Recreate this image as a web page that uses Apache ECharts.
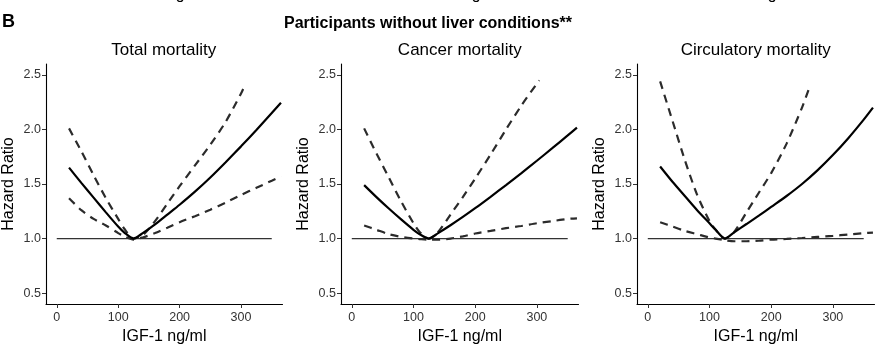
<!DOCTYPE html>
<html>
<head>
<meta charset="utf-8">
<script src="https://cdn.jsdelivr.net/npm/echarts@6/dist/echarts.min.js"></script>
<style>
body { margin: 0; background: #fff; }
#chart { width: 875px; height: 351px; }
</style>
</head>
<body>
<div id="chart"></div>
<script type="text/javascript">
	// IGF-1 grid (ng/ml) shared by the fitted curves and lower bounds
	var xGrid = [20, 40, 60, 80, 100, 110, 125, 140, 160, 180, 200, 225, 250, 275, 300, 325, 350, 365];

	// Total mortality
	var totalFit = [1.65, 1.51, 1.375, 1.24, 1.11, 1.055, 1.0, 1.05, 1.13, 1.22, 1.31, 1.43, 1.56, 1.70, 1.845, 1.995, 2.15, 2.245];
	var totalLower = [1.37, 1.26, 1.18, 1.12, 1.05, 1.02, 0.99, 1.01, 1.05, 1.10, 1.15, 1.205, 1.265, 1.33, 1.40, 1.465, 1.53, 1.57];
	var totalUpperX = [20, 40, 60, 80, 100, 110, 125, 140, 160, 180, 200, 225, 250, 275, 300, 305];
	var totalUpper = [2.01, 1.80, 1.58, 1.37, 1.18, 1.09, 1.0, 1.03, 1.16, 1.32, 1.48, 1.67, 1.86, 2.07, 2.33, 2.39];

	// Cancer mortality
	var cancerFit = [1.49, 1.38, 1.275, 1.175, 1.08, 1.04, 1.0, 1.05, 1.122, 1.198, 1.278, 1.383, 1.49, 1.60, 1.713, 1.828, 1.945, 2.017];
	var cancerLower = [1.12, 1.08, 1.04, 1.015, 1.0, 0.995, 0.99, 0.99, 1.0, 1.02, 1.046, 1.07, 1.095, 1.115, 1.14, 1.16, 1.18, 1.185];
	var cancerUpperX = [20, 40, 60, 80, 100, 110, 125, 140, 160, 180, 200, 225, 250, 275, 300, 304];
	var cancerUpper = [2.01, 1.78, 1.56, 1.34, 1.14, 1.06, 1.0, 1.06, 1.22, 1.38, 1.55, 1.77, 2.0, 2.22, 2.42, 2.45];

	// Circulatory mortality
	var circFit = [1.66, 1.52, 1.39, 1.26, 1.14, 1.08, 1.0, 1.057, 1.133, 1.21, 1.29, 1.39, 1.50, 1.625, 1.765, 1.92, 2.09, 2.2];
	var circLower = [1.15, 1.11, 1.07, 1.04, 1.01, 1.0, 0.985, 0.975, 0.975, 0.98, 0.99, 0.997, 1.005, 1.015, 1.025, 1.037, 1.05, 1.055];
	var circUpperX = [20, 40, 60, 80, 100, 110, 125, 140, 160, 180, 200, 225, 250, 261];
	var circUpper = [2.44, 2.08, 1.72, 1.40, 1.16, 1.08, 1.0, 1.06, 1.24, 1.42, 1.60, 1.87, 2.2, 2.37];

	// reference line HR = 1
	var refX = [0, 350];
	var refY = [1, 1];

	var xTicks = [0, 100, 200, 300];
	var yTicks = [0.5, 1.0, 1.5, 2.0, 2.5];

	var panelTitles = ['Total mortality', 'Cancer mortality', 'Circulatory mortality'];
	var mainTitle = 'Participants without liver conditions**';
	var xName = 'IGF-1 ng/ml';
	var yName = 'Hazard Ratio';

	function zip(xs, ys) {
		var arr = [];
		for (var i = 0; i < xs.length; i++) {
			arr.push([xs[i], ys[i]]);
		}
		return arr;
	}

	var FONT = 'Liberation Sans, Arial, sans-serif';
	var lefts = [45, 341, 637];
	var panels = [
		{ fit: totalFit, lower: totalLower, upX: totalUpperX, up: totalUpper },
		{ fit: cancerFit, lower: cancerLower, upX: cancerUpperX, up: cancerUpper },
		{ fit: circFit, lower: circLower, upX: circUpperX, up: circUpper }
	];

	var grids = [], xAxes = [], yAxes = [], series = [], titles = [];
	var graphics = [];

	for (var i = 0; i < 3; i++) {
		grids.push({ left: lefts[i], top: 64, width: 237.5, height: 240 });
		xAxes.push({
			type : 'value',
			gridIndex : i,
			min : -17.5,
			max : 367.5,
			name : xName,
			nameLocation : 'middle',
			nameGap : 25,
			nameTextStyle : { fontFamily: FONT, fontSize: 16, color: '#000' },
			axisLine : { onZero: false, lineStyle: { color: '#000', width: 1.1 } },
			axisTick : { show: true, length: 4, customValues: xTicks, lineStyle: { color: '#333' } },
			axisLabel : { customValues: xTicks, fontFamily: FONT, fontSize: 12.5, color: '#333', margin: 7 },
			splitLine : { show: false }
		});
		yAxes.push({
			type : 'value',
			gridIndex : i,
			min : 0.4,
			max : 2.6,
			name : yName,
			nameLocation : 'middle',
			nameGap : 29,
			nameRotate : 90,
			nameTextStyle : { fontFamily: FONT, fontSize: 16, color: '#000' },
			axisLine : { show: true, onZero: false, lineStyle: { color: '#000', width: 1.1 } },
			axisTick : { show: true, length: 4, customValues: yTicks, lineStyle: { color: '#333' } },
			axisLabel : {
				customValues: yTicks, fontFamily: FONT, fontSize: 12.5, color: '#333', margin: 5,
				formatter: function (v) { return v.toFixed(1); }
			},
			splitLine : { show: false }
		});
		// title padding is 5px, so shift left by it
		titles.push({
			text : panelTitles[i],
			left : lefts[i] + 118.75 - 5,
			top : 37,
			textAlign : 'center',
			textStyle : { fontFamily: FONT, fontSize: 17, fontWeight: 'normal', color: '#000' }
		});
		// cut-off axis labels of the panel row above
		graphics.push({
			type : 'text',
			x : lefts[i] + 118.75,
			y : 3,
			style : { text: xName, fontFamily: FONT, fontSize: 16, fill: '#000', align: 'center', verticalAlign: 'bottom' }
		});

		var p = panels[i];
		series.push({
			type : 'line', xAxisIndex : i, yAxisIndex : i,
			data : zip(refX, refY), showSymbol : false, silent : true,
			lineStyle : { color: '#333', width: 1.2 }
		});
		series.push({
			type : 'line', xAxisIndex : i, yAxisIndex : i,
			data : zip(xGrid, p.lower), showSymbol : false, smooth : 0.25,
			lineStyle : { color: '#2b2b2b', width: 2.2, type: [8, 6] }
		});
		series.push({
			type : 'line', xAxisIndex : i, yAxisIndex : i,
			data : zip(p.upX, p.up), showSymbol : false, smooth : 0.25,
			lineStyle : { color: '#2b2b2b', width: 2.2, type: [8, 6] }
		});
		series.push({
			type : 'line', xAxisIndex : i, yAxisIndex : i,
			data : zip(xGrid, p.fit), showSymbol : false, smooth : 0.25,
			lineStyle : { color: '#000', width: 2.2 }
		});
	}

	titles.push({
		text : mainTitle,
		left : 423,
		top : 11,
		textAlign : 'center',
		textStyle : { fontFamily: FONT, fontSize: 16, fontWeight: 'bold', color: '#000' }
	});
	titles.push({
		text : 'B',
		left : -3,
		top : 8,
		textStyle : { fontFamily: FONT, fontSize: 18, fontWeight: 'bold', color: '#000' }
	});

	var myChart = echarts.init(document.getElementById('chart'), null, { renderer: 'canvas' });
	myChart.setOption({
		animation : false,
		title : titles,
		grid : grids,
		xAxis : xAxes,
		yAxis : yAxes,
		series : series,
		graphic : graphics
	});
</script>
</body>
</html>
